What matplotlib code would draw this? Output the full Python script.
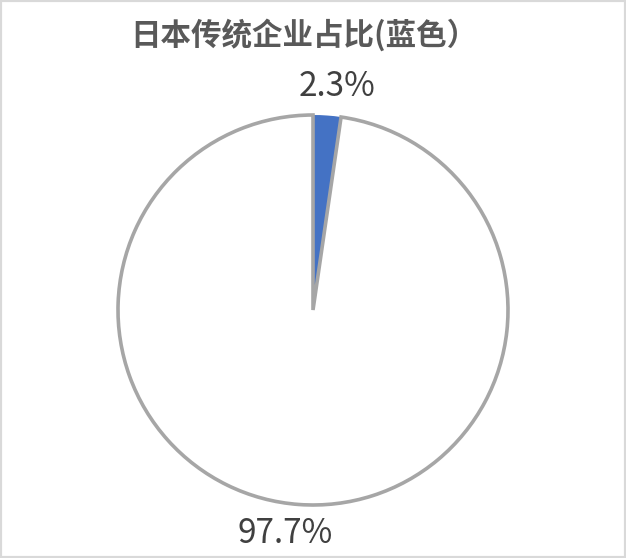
import matplotlib
matplotlib.use("Agg")
import matplotlib.pyplot as plt
import matplotlib.patches as patches

plt.rcParams['font.family'] = ['Noto Sans CJK SC', 'DejaVu Sans']

# data
labels = ['日本传统企业', '其他企业']
shares = [2.3, 97.7]
colors = ['#4472C4', '#FFFFFF']
title = '日本传统企业占比(蓝色）'

W, H = 626, 558
fig = plt.figure(figsize=(W / 100, H / 100), dpi=100)

# pie centre / radius in pixels
cx, cy, r = 313, 310, 195
ax = fig.add_axes([(cx - r) / W, (H - cy - r) / H, 2 * r / W, 2 * r / H])

wedges, texts, autotexts = ax.pie(
    shares, colors=colors, startangle=90, counterclock=False,
    autopct='%.1f%%', pctdistance=1.16,
    textprops={'fontsize': 24, 'color': '#404040'})

wedges[0].set_edgecolor('none')
wedges[1].set_edgecolor('#A6A6A6')
wedges[1].set_linewidth(2.6)
wedges[1].set_zorder(3)

# nudge labels a bit to match the reference placement
autotexts[0].set_x(autotexts[0].get_position()[0] + 0.04)
autotexts[0].set_y(autotexts[0].get_position()[1] - 0.01)
autotexts[1].set_x(autotexts[1].get_position()[0] - 0.06)
autotexts[1].set_y(autotexts[1].get_position()[1] + 0.01)

ax.set_xlim(-1, 1)
ax.set_ylim(-1, 1)
ax.set_aspect('equal')
ax.axis('off')

fig.text(304 / W, 1 - 35 / H, title, ha='center', va='center',
         fontsize=22, fontweight='bold', color='#595959')

# light frame around the chart
fig.patches.append(patches.Rectangle((0, 0), 1, 1, transform=fig.transFigure,
                                     fill=False, edgecolor='#D9D9D9', linewidth=3))

fig.savefig('out.png', dpi=100)
